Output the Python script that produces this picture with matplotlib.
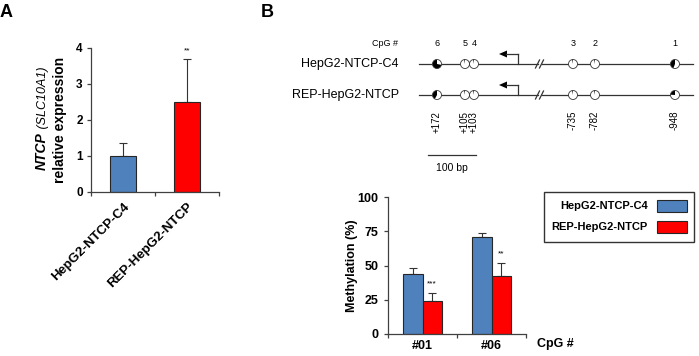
import matplotlib
matplotlib.use('Agg')
import matplotlib.pyplot as plt
from matplotlib.patches import Wedge, Circle, Rectangle
import numpy as np

plt.rcParams['font.family'] = ['Liberation Sans', 'DejaVu Sans']

# panel A: NTCP expression
cell_lines = ['HepG2-NTCP-C4', 'REP-HepG2-NTCP']
expr = [1.0, 2.5]
expr_err = [0.35, 1.2]
expr_sig = ['', '**']

# panel B: methylation of CpG sites
cpg_bars = ['#01', '#06']
meth_c4 = [44, 71]
meth_c4_err = [4, 3]
meth_rep = [24, 42]
meth_rep_err = [6, 10]
meth_sig = ['***', '**']

# panel B: promoter diagram
cpg_ids = ['6', '5', '4', '3', '2', '1']
cpg_pos = ['+172', '+105', '+103', '-735', '-782', '-948']
frac_c4 = [0.72, 0.03, 0.03, 0.03, 0.03, 0.44]
frac_rep = [0.42, 0.03, 0.03, 0.03, 0.03, 0.24]

colors = ['#4F81BD', '#FF0000']
edge = '#262626'

W, H = 699, 356
fig = plt.figure(figsize=(W / 100, H / 100), dpi=100)


def box(x0, y0, x1, y1):
    return [x0 / W, 1 - y1 / H, (x1 - x0) / W, (y1 - y0) / H]


def P(y):
    return H - y


# overlay in pixel units for diagram / labels
ov = fig.add_axes([0, 0, 1, 1])
ov.set_xlim(0, W)
ov.set_ylim(0, H)
ov.axis('off')

# ---------------- panel A ----------------
axA = fig.add_axes(box(91, 48, 219, 192))
xa = np.arange(len(cell_lines))
axA.bar(xa, expr, width=0.41, color=colors, edgecolor=edge, linewidth=0.8, zorder=2)
axA.errorbar(xa, expr, yerr=[np.zeros(len(expr)), expr_err], fmt='none', ecolor='#333333',
             elinewidth=0.8, capsize=3, capthick=0.8, zorder=1)
for x, v, e, s in zip(xa, expr, expr_err, expr_sig):
    if s:
        axA.text(x, v + e + 0.12, s, ha='center', va='bottom', fontsize=6)
axA.set_xlim(-0.5, 1.5)
axA.set_ylim(0, 4)
axA.set_yticks(range(5))
axA.set_xticks([-0.5, 0.5, 1.5])
axA.set_xticklabels([])
axA.set_xticks(xa, minor=True)
axA.set_xticklabels(cell_lines, minor=True, rotation=45, ha='right', rotation_mode='anchor',
                    fontweight='bold', fontsize=9.5)
axA.tick_params(axis='x', which='minor', length=0, pad=6)
axA.tick_params(axis='both', which='major', length=3, width=0.9, color='#404040',
                labelsize=8.5, pad=3)
for lab in axA.get_yticklabels():
    lab.set_fontweight('bold')
axA.spines[['top', 'right']].set_visible(False)
for sp in ['left', 'bottom']:
    axA.spines[sp].set_color('#404040')
    axA.spines[sp].set_linewidth(0.9)

# y label with mixed styles
ov.text(60, P(120), 'relative expression', rotation=90, ha='center', va='center',
        fontsize=10, fontweight='bold')
t1 = ov.text(49, 0, 'NTCP', rotation=90, ha='right', va='bottom', fontsize=10,
             fontweight='bold', fontstyle='italic')
t2 = ov.text(49, 0, ' (SLC10A1)', rotation=90, ha='right', va='bottom', fontsize=9,
             fontstyle='italic')
r = fig.canvas.get_renderer()
h1 = t1.get_window_extent(r).height
h2 = t2.get_window_extent(r).height
y0 = P(118) - (h1 + h2) / 2
t1.set_y(y0)
t2.set_y(y0 + h1)

ov.text(0, P(4), 'A', fontsize=13, fontweight='bold', ha='left', va='top')
ov.text(261, P(4), 'B', fontsize=13, fontweight='bold', ha='left', va='top')

# ---------------- panel B diagram ----------------
cpg_x = [437, 465, 474, 573, 595, 675]
row_y = [64, 95]
ov.text(398, P(43), 'CpG #', ha='right', va='center', fontsize=6.5)
for x, c in zip(cpg_x, cpg_ids):
    ov.text(x, P(43), c, ha='center', va='center', fontsize=6.5)
for y, name, fracs in zip(row_y, cell_lines, [frac_c4, frac_rep]):
    yy = P(y)
    ov.text(399, yy, name, ha='right', va='center', fontsize=9)
    ov.plot([419, 538], [yy, yy], color='#333333', lw=0.9)
    ov.plot([542, 693], [yy, yy], color='#333333', lw=0.9)
    for dx in (0, 4):
        ov.plot([535.5 + dx, 539.5 + dx], [yy - 4, yy + 4], color='#333333', lw=0.9)
    # promoter arrow
    ov.plot([518, 518], [yy, yy + 10], color='#333333', lw=0.9)
    ov.plot([506, 518], [yy + 10, yy + 10], color='#333333', lw=0.9)
    ov.fill([499, 507, 507], [yy + 10, yy + 13.5, yy + 6.5], color='black', lw=0)
    for x, f in zip(cpg_x, fracs):
        ov.add_patch(Circle((x, yy), 4.5, fc='white', ec='none', zorder=3))
        ov.add_patch(Wedge((x, yy), 4.5, 90, 90 + 360 * f, fc='black', ec='none', zorder=4))
        ov.add_patch(Circle((x, yy), 4.5, fill=False, ec='#333333', lw=0.6, zorder=5))
for x, p in zip(cpg_x, cpg_pos):
    ov.text(x, P(111), p, rotation=90, ha='center', va='top', fontsize=7)
ov.plot([428, 476], [P(155), P(155)], color='#333333', lw=0.9)
ov.text(452, P(168), '100 bp', ha='center', va='center', fontsize=7.5)

# ---------------- panel B bars ----------------
axB = fig.add_axes(box(388, 197, 526, 334))
xb = np.arange(len(cpg_bars))
w = 0.28
for off, vals, errs, col in [(-w / 2, meth_c4, meth_c4_err, colors[0]),
                             (w / 2, meth_rep, meth_rep_err, colors[1])]:
    axB.bar(xb + off, vals, width=w, color=col, edgecolor=edge, linewidth=0.8, zorder=2)
    axB.errorbar(xb + off, vals, yerr=[np.zeros(len(vals)), errs], fmt='none',
                 ecolor='#333333', elinewidth=0.8, capsize=3, capthick=0.8, zorder=1)
for x, v, e, s in zip(xb, meth_rep, meth_rep_err, meth_sig):
    axB.text(x + w / 2, v + e + 4, s, ha='center', va='bottom', fontsize=6)
axB.set_xlim(-0.5, 1.5)
axB.set_ylim(0, 100)
axB.set_yticks([0, 25, 50, 75, 100])
axB.set_xticks([-0.5, 0.5, 1.5])
axB.set_xticklabels([])
axB.set_xticks(xb, minor=True)
axB.set_xticklabels(cpg_bars, minor=True, fontweight='bold', fontsize=9)
axB.tick_params(axis='x', which='minor', length=0, pad=4)
axB.tick_params(axis='both', which='major', length=3, width=0.9, color='#404040',
                labelsize=9, pad=4)
for lab in axB.get_yticklabels():
    lab.set_fontweight('bold')
axB.spines[['top', 'right']].set_visible(False)
for sp in ['left', 'bottom']:
    axB.spines[sp].set_color('#404040')
    axB.spines[sp].set_linewidth(0.9)
axB.set_ylabel('Methylation (%)', fontweight='bold', fontsize=9)
axB.yaxis.set_label_coords(-0.215, 0.5)
ov.text(537, P(344), 'CpG #', ha='left', va='center', fontsize=9, fontweight='bold')

# legend box
ov.add_patch(Rectangle((544, P(242)), 150, 50, fill=False, ec='#333333', lw=1))
for y, name, col in zip([206, 227], cell_lines, colors):
    ov.text(648, P(y), name, ha='right', va='center', fontsize=8, fontweight='bold')
    ov.add_patch(Rectangle((657, P(y) - 6), 30, 12, fc=col, ec=edge, lw=0.8))

fig.savefig('out.png', dpi=100)
